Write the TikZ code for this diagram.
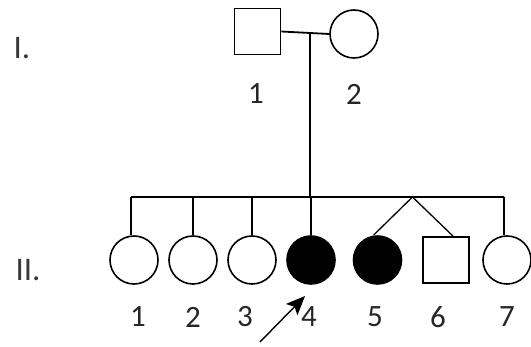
\documentclass[tikz,border=0pt]{standalone}
\usepackage{fontspec}
\setmainfont{Carlito}
\usetikzlibrary{arrows.meta}
\begin{document}
\begin{tikzpicture}[x=1pt,y=-1pt,
  male/.style={draw,line width=1.8pt,minimum size=46pt,inner sep=0pt,rectangle},
  female/.style={draw,line width=1.6pt,minimum size=48pt,inner sep=0pt,circle},
  affected/.style={fill=black},
  lbl/.style={font=\fontsize{31}{31}\selectfont,text=black!85,inner sep=0pt},
  gen/.style={font=\fontsize{33}{33}\selectfont,text=black!78,inner sep=0pt},
  link/.style={line width=1.8pt}]
\useasboundingbox (0,0) rectangle (531,347);
% generation I
\node[male] (i1) at (257.5,31.5) {};
\node[female] (i2) at (354,34) {};
\coordinate (m) at (310,34);
\coordinate (sib) at (310,197);
\draw[link] (i1.east) -- (i2.west);
\draw[link] (m) -- (sib);
\node[lbl] at (256,94) {1};
\node[lbl] at (354,94) {2};
\node[gen] at (22,48) {I.};
\node[gen] at (28,270) {II.};
% generation II
\node[female] (c1) at (134,260) {};
\node[female] (c2) at (193,260) {};
\node[female] (c3) at (252,260) {};
\node[female,affected] (c4) at (311,260) {};
\node[female,affected] (c5) at (377.5,260) {};
\node[male] (c6) at (446,260) {};
\node[female] (c7) at (507,260) {};
\coordinate (sl) at (131,197);
\coordinate (sr) at (504,197);
\coordinate (tw) at (412.5,197);
\draw[link] (sl) -- (sr);
\draw[link] (sl) -- (sl |- c1.north);
\draw[link] (c2.north |- sl) -- (c2.north);
\draw[link] (c3.north |- sl) -- (c3.north);
\draw[link] (c4.north |- sl) -- (c4.north);
\draw[link] (sr) -- (sr |- c7.north);
\draw[link,line width=1.3pt] (tw) -- ([xshift=-4pt]c5.north);
\draw[link,line width=1.3pt] (tw) -- ([xshift=7pt]c6.north);
\node[lbl] at (138,317) {1};
\node[lbl] at (193,317) {2};
\node[lbl] at (245,317) {3};
\node[lbl] at (309,317) {4};
\node[lbl] at (375,317) {5};
\node[lbl] at (438,317) {6};
\node[lbl] at (507,317) {7};
% proband arrow
\coordinate (a0) at (260,342);
\coordinate (a1) at (305,296);
\draw[line width=1.4pt,-{Stealth[length=19pt,width=16pt,inset=4pt]}] (a0) -- (a1);
\end{tikzpicture}
\end{document}
